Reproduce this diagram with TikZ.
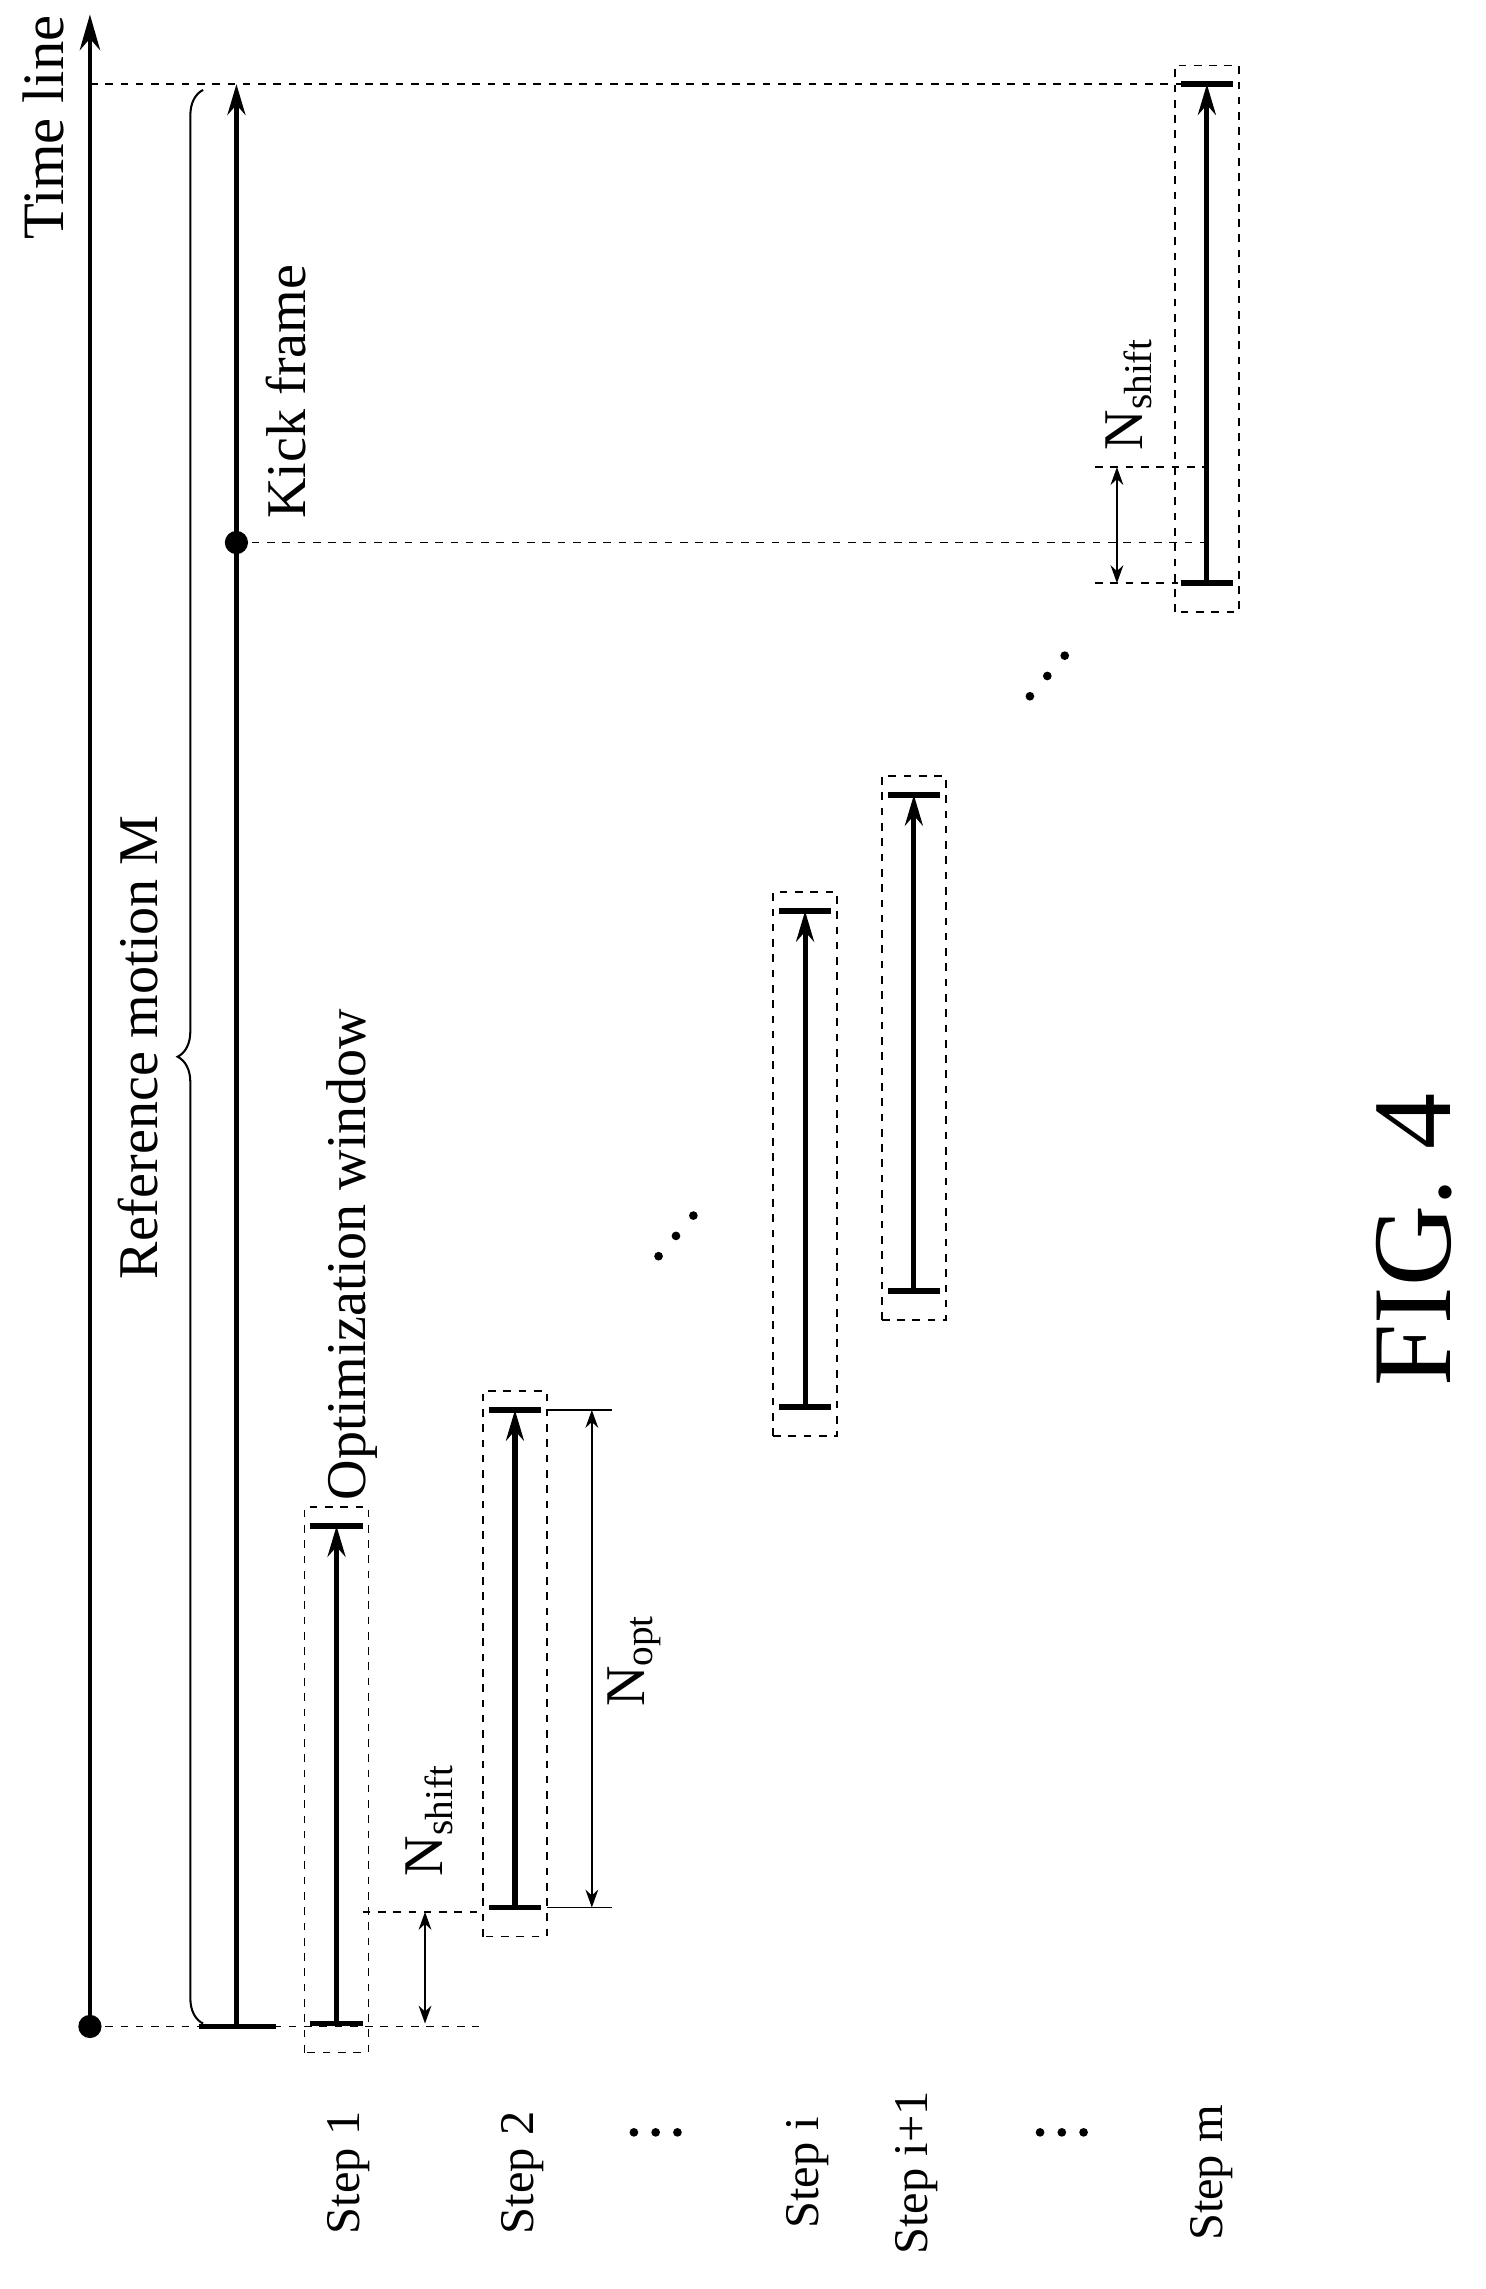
\documentclass[tikz,border=0pt]{standalone}
\usepackage{fontspec}
\setmainfont{Liberation Serif}
\usetikzlibrary{arrows.meta,decorations.pathreplacing}
\begin{document}
\begin{tikzpicture}[x=0.02cm,y=-0.02cm,
  lbl/.style={rotate=90,font=\fontsize{22}{24}\selectfont},
  slbl/.style={rotate=90,font=\fontsize{19}{21}\selectfont},
  dline/.style={dashed,line width=0.5pt},
  winbox/.style={dashed,line width=0.6pt},
  bar/.style={line width=2pt,-{Stealth[length=12pt,width=7pt]}},
  tick/.style={line width=2.2pt},
  dim/.style={line width=0.8pt,{Stealth[length=7pt,width=5pt]}-{Stealth[length=7pt,width=5pt]}}]
\useasboundingbox (0,0) rectangle (1024,1578);
% time line
\coordinate (t0) at (62,1397); \coordinate (t1) at (62,10);
\draw[line width=1.8pt,-{Stealth[length=14pt,width=8pt]}] (t0) -- (t1);
\fill (t0) circle (8);
\node[lbl,font=\fontsize{23}{25}\selectfont] (tl) at (30,88) {Time line};
% dashed guides
\coordinate (g1a) at (62,58); \coordinate (g1b) at (835,58);
\draw[dline] (g1a) -- (g1b);
\coordinate (g2b) at (330,1397);
\draw[dline] (t0) -- (g2b);
\coordinate (g3a) at (163,374); \coordinate (g3b) at (835,374);
\draw[dline] (g3a) -- (g3b);
% reference motion
\coordinate (r0) at (163,1397); \coordinate (r1) at (163,58);
\draw[bar] (r0) -- (r1);
\draw[tick] (137,1397) -- (190,1397);
\fill (g3a) circle (8);
\node[lbl] (kick) at (197,270) {Kick frame};
\draw[line width=0.8pt,decorate,decoration={brace,amplitude=10pt}] (140,1395) -- (140,62);
\node[lbl] (refm) at (95,722) {Reference motion M};
% steps
\foreach \n/\x/\yb/\yt in {s1/232/1395/1052,s2/355/1315/972,si/555/970/628,sj/630/890/548,sm/832/402/58}{
  \draw[winbox] (\x-22,\yb+20) rectangle (\x+22,\yt-13);
  \coordinate (\n b) at (\x,\yb); \coordinate (\n t) at (\x,\yt);
  \draw[bar] (\n b) -- (\n t);
  \draw[tick] (\x-18,\yb) -- (\x+18,\yb);
  \draw[tick] (\x-18,\yt) -- (\x+18,\yt);
}
\node[lbl] (ow) at (243,865) {Optimization window};
% Nshift step 1
\coordinate (n1a) at (250,1318); \coordinate (n1b) at (330,1318);
\draw[dline] (n1a) -- (n1b);
\draw[dim] (293,1395) -- (293,1318);
\node[lbl] (ns1) at (296,1255) {N\textsubscript{shift}};
% Nopt
\draw[line width=0.6pt] (377,972) -- (422,972);
\draw[line width=0.6pt] (377,1315) -- (422,1315);
\draw[dim] (408,972) -- (408,1315);
\node[lbl] (nopt) at (437,1145) {N\textsubscript{opt}};
% Nshift step m
\draw[dline] (755,402) -- (812,402);
\draw[dline] (755,322) -- (832,322);
\draw[dim] (770,402) -- (770,322);
\node[lbl] (nsm) at (778,272) {N\textsubscript{shift}};
% dots
\foreach \cx/\cy in {454/866,466/852,478/838, 710/480,722/466,734/452}{\fill (\cx,\cy) circle (3);}
\foreach \cx in {437,452,467}{\fill (\cx,1470) circle (3);}
\foreach \cx in {717,732,747}{\fill (\cx,1470) circle (3);}
% step labels
\node[slbl] (l1) at (240,1498) {Step 1};
\node[slbl] (l2) at (360,1498) {Step 2};
\node[slbl] (l4) at (557,1498) {Step i};
\node[slbl] (l5) at (632,1498) {Step i+1};
\node[slbl] (l7) at (835,1498) {Step m};
\node[rotate=90,font=\fontsize{44}{48}\selectfont] (fig) at (975,855) {FIG. 4};
\end{tikzpicture}
\end{document}
